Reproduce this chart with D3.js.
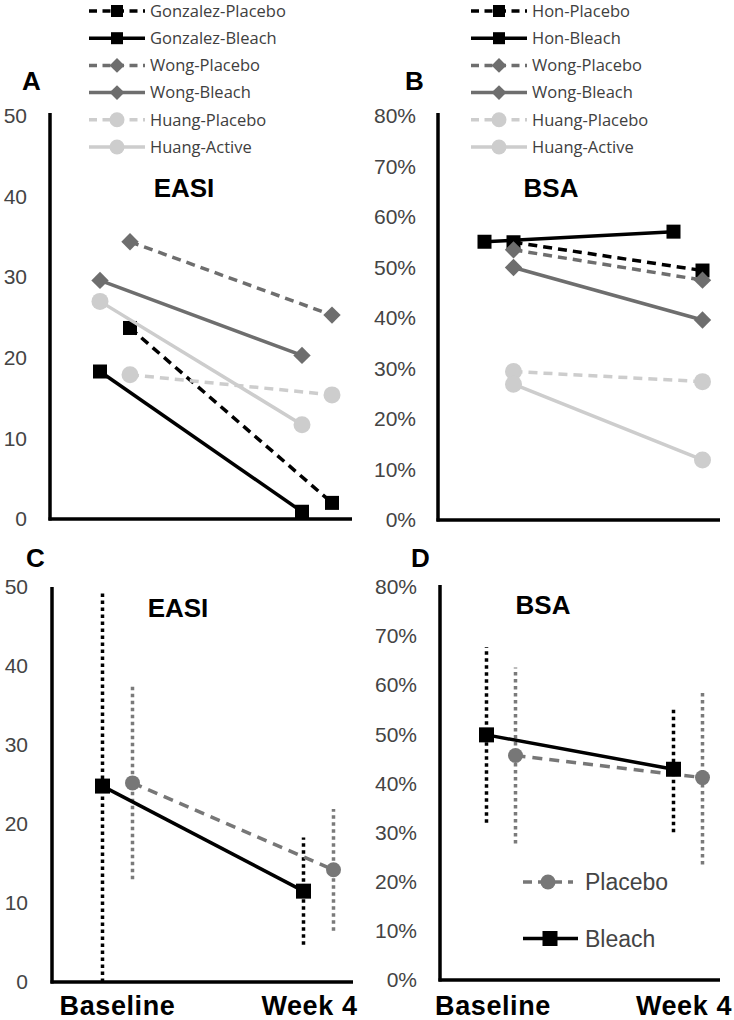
<!DOCTYPE html>
<html><head><meta charset="utf-8">
<script src="https://cdn.jsdelivr.net/npm/d3@7"></script>
<style>body{margin:0;background:#fff}svg{display:block}</style>
</head><body>
<svg id="c" width="734" height="1020"></svg>
<script>
// ---------- DATA ----------
const timepoints = ["Baseline", "Week 4"];

const seriesA = ["Gonzalez-Placebo","Gonzalez-Bleach","Wong-Placebo","Wong-Bleach","Huang-Placebo","Huang-Active"];
const valuesA = [[23.7, 2.0],[18.3, 0.9],[34.4, 25.3],[29.6, 20.3],[17.9, 15.4],[27.0, 11.7]];
const slotA   = [1, 0, 1, 0, 1, 0];
const ticksA  = [0, 10, 20, 30, 40, 50];

const seriesB = ["Hon-Placebo","Hon-Bleach","Wong-Placebo","Wong-Bleach","Huang-Placebo","Huang-Active"];
const valuesB = [[55.0, 49.4],[55.1, 57.1],[53.5, 47.5],[50.0, 39.6],[29.4, 27.4],[26.9, 11.9]];
const slotB   = [1, 0, 1, 1, 1, 1];
const ticksB  = [0, 10, 20, 30, 40, 50, 60, 70, 80];

const groupsCD = ["Placebo", "Bleach"];
const slotCD   = [1, 0];
const meansC = [[25.2, 14.2],[24.8, 11.5]];
const errsC  = [[12.2, 7.7],[24.8, 6.8]];
const meansD = [[45.7, 41.2],[49.9, 42.9]];
const errsD  = [[17.9, 17.7],[17.9, 12.8]];

// ---------- STYLES ----------
const kind = ["sq","sq","dia","dia","circ","circ"];
const colA = ["#000","#000","#6e6e6e","#6e6e6e","#cdcdcd","#cdcdcd"];
const dashA = [true,false,true,false,true,false];
const colCD = ["#777777", "#000000"];
const markCD = ["circ","sq"];

const svg = d3.select("#c");
svg.append("rect").attr("width",734).attr("height",1020).attr("fill","#fff");

function marker(g, type, x, y, color, s){
  if(type==="sq"){
    g.append("rect").attr("x",x-s/2).attr("y",y-s/2).attr("width",s).attr("height",s).attr("fill",color);
  } else if(type==="dia"){
    const h=s*0.62;
    g.append("path").attr("d",`M${x},${y-h}L${x+h},${y}L${x},${y+h}L${x-h},${y}Z`).attr("fill",color);
  } else {
    g.append("circle").attr("cx",x).attr("cy",y).attr("r",s/2).attr("fill",color);
  }
}

function axes(p){
  const g = svg.append("g");
  const yAx = d3.axisLeft(p.y).tickValues(p.ticks).tickSize(0).tickPadding(p.pad)
    .tickFormat(p.fmt);
  const ga = g.append("g").attr("transform",`translate(${p.x0},0)`).call(yAx);
  ga.select(".domain").attr("stroke","#000").attr("stroke-width",3.5).attr("d",`M0,${p.top}V${p.y(0)+1.5}`);
  ga.selectAll("text").attr("font-family","Liberation Sans, Arial, sans-serif").attr("font-size",21).attr("fill","#444");
  g.append("line").attr("x1",p.x0-1.5).attr("x2",p.x1).attr("y1",p.y(0)).attr("y2",p.y(0))
    .attr("stroke","#000").attr("stroke-width",3.5);
  svg.append("text").attr("x",p.lx).attr("y",p.ly).text(p.letter)
    .attr("font-family","Liberation Sans, Arial, sans-serif").attr("font-weight","bold").attr("font-size",26);
  svg.append("text").attr("x",p.tx).attr("y",p.ty).text(p.title).attr("text-anchor","middle")
    .attr("font-family","Liberation Sans, Arial, sans-serif").attr("font-weight","bold").attr("font-size",26);
}

function panelTop(p, series, values, slots){
  axes(p);
  const inner = d3.scalePoint().domain([0,1]).range([-p.off, p.off]);
  const g = svg.append("g");
  series.forEach((s,i)=>{
    const pts = timepoints.map((t,j)=>[p.x(t)+inner(slots[i]), p.y(values[i][j])]);
    g.append("path").attr("d",d3.line()(pts)).attr("fill","none").attr("stroke",colA[i])
      .attr("stroke-width",3.5).attr("stroke-dasharray",dashA[i]?"9,6":null);
    pts.forEach(q=>marker(g, kind[i], q[0], q[1], colA[i], kind[i]==="circ"?17:14));
  });
  // legend
  const lg = svg.append("g").attr("font-family","Open Sans, sans-serif").attr("font-size",16.5).attr("fill","#404040");
  series.forEach((s,i)=>{
    const yy = p.legY + i*27.2;
    lg.append("line").attr("x1",p.legX).attr("x2",p.legX+56).attr("y1",yy).attr("y2",yy)
      .attr("stroke",colA[i]).attr("stroke-width",3.5).attr("stroke-dasharray",dashA[i]?"8,5.5":null);
    marker(lg, kind[i], p.legX+28, yy, colA[i], kind[i]==="circ"?15:12);
    lg.append("text").attr("x",p.legX+61).attr("y",yy).attr("dy","0.35em").text(s);
  });
}

function panelBottom(p, means, errs){
  axes(p);
  const inner = d3.scalePoint().domain([0,1]).range([-p.off, p.off]);
  const g = svg.append("g");
  // error bars
  groupsCD.forEach((gname,i)=>{
    timepoints.forEach((t,j)=>{
      const x = p.x(t)+inner(slotCD[i]);
      const lo = Math.max(0, means[i][j]-errs[i][j]), hi = means[i][j]+errs[i][j];
      g.append("line").attr("x1",x).attr("x2",x).attr("y1",p.y(lo)).attr("y2",p.y(hi))
        .attr("stroke", i===0?"#7a7a7a":"#000").attr("stroke-width",3.5).attr("stroke-dasharray","3.5,3.5");
    });
  });
  groupsCD.forEach((gname,i)=>{
    const pts = timepoints.map((t,j)=>[p.x(t)+inner(slotCD[i]), p.y(means[i][j])]);
    g.append("path").attr("d",d3.line()(pts)).attr("fill","none").attr("stroke",colCD[i])
      .attr("stroke-width",3.5).attr("stroke-dasharray",i===0?"10,7":null);
    pts.forEach(q=>marker(g, markCD[i], q[0], q[1], colCD[i], 15));
  });
  // x labels
  timepoints.forEach((t,k)=>{
    svg.append("text").attr("x",p.x(t)+p.labOff[k]).attr("y",1015).attr("text-anchor","middle").text(t)
      .attr("font-family","Liberation Sans, Arial, sans-serif").attr("font-weight","bold").attr("font-size",27)
      .attr("letter-spacing",0.6);
  });
  if(p.legend){
    const lg = svg.append("g").attr("font-family","Liberation Sans, Arial, sans-serif").attr("font-size",23).attr("fill","#444");
    groupsCD.forEach((gname,i)=>{
      const yy = p.legY + i*56.5;
      lg.append("line").attr("x1",p.legX).attr("x2",p.legX+(i===0?50:55)).attr("y1",yy).attr("y2",yy)
        .attr("stroke",colCD[i]).attr("stroke-width",3.5).attr("stroke-dasharray",i===0?"9,6":null);
      marker(lg, markCD[i], p.legX+(i===0?25:27), yy, colCD[i], 15);
      lg.append("text").attr("x",p.legX+62).attr("y",yy).attr("dy","0.36em").text(gname);
    });
  }
}

const pct = d=>d+"%";

panelTop({
  x: d3.scalePoint().domain(timepoints).range([115,317]), off:15,
  y: d3.scaleLinear().domain([0,50]).range([519,116]), ticks:ticksA, fmt:d3.format("d"),
  x0:50, x1:352, top:113, pad:23, letter:"A", lx:22, ly:90, title:"EASI", tx:184, ty:197,
  legX:89, legY:11
}, seriesA, valuesA, slotA);

panelTop({
  x: d3.scalePoint().domain(timepoints).range([499,688]), off:14.5,
  y: d3.scaleLinear().domain([0,80]).range([520,116]), ticks:ticksB, fmt:pct,
  x0:438, x1:720, top:113, pad:22, letter:"B", lx:405, ly:90, title:"BSA", tx:551, ty:197,
  legX:471, legY:11
}, seriesB, valuesB, slotB);

panelBottom({
  x: d3.scalePoint().domain(timepoints).range([117.5,318.5]), off:15,
  y: d3.scaleLinear().domain([0,50]).range([982,587]), ticks:ticksA, fmt:d3.format("d"),
  x0:52, x1:353, top:587, pad:24, letter:"C", lx:26, ly:567, title:"EASI", tx:178, ty:617,
  labOff:[0,-9]
}, meansC, errsC);

panelBottom({
  x: d3.scalePoint().domain(timepoints).range([501,688]), off:14.5,
  y: d3.scaleLinear().domain([0,80]).range([980,587]), ticks:ticksB, fmt:pct,
  x0:440, x1:720, top:585, pad:23, letter:"D", lx:411, ly:567, title:"BSA", tx:543, ty:614,
  labOff:[-8,-4], legend:true, legX:523, legY:882
}, meansD, errsD);
</script>
</body></html>
